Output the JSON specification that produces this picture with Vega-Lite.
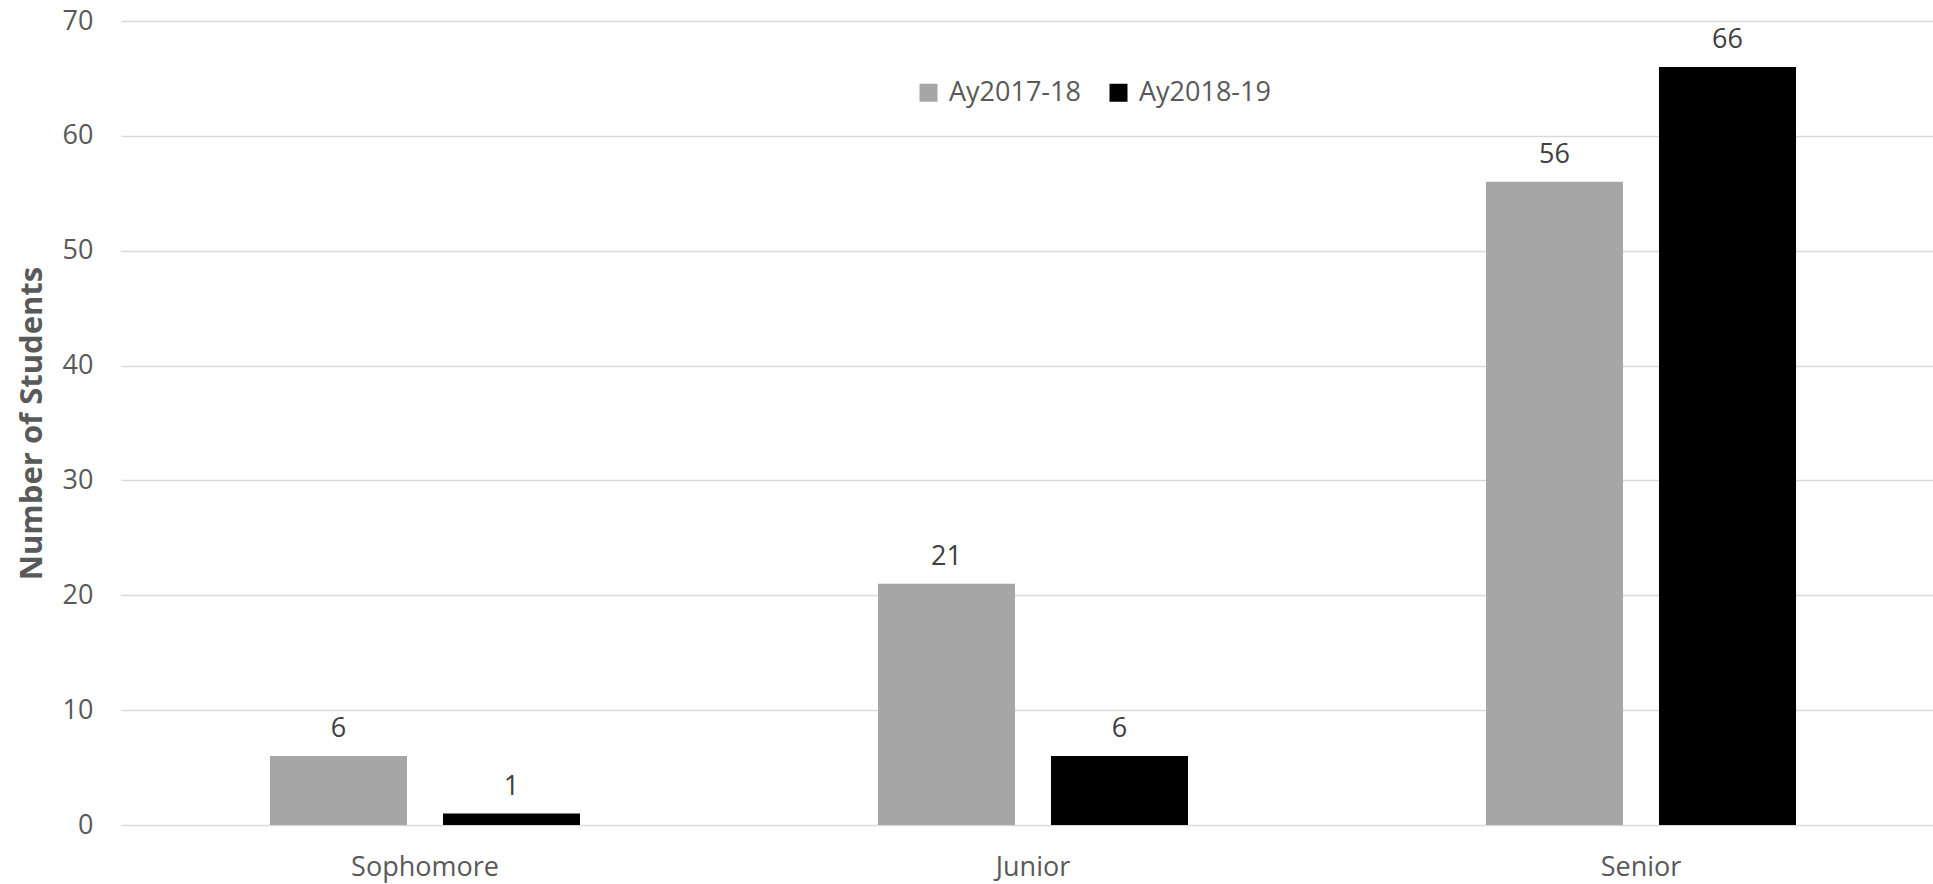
{
  "$schema": "https://vega.github.io/schema/vega-lite/v6.json",
  "autosize": "none",
  "width": 1812,
  "height": 804,
  "padding": {"left": 121, "top": 21, "right": 0, "bottom": 59},
  "background": "white",
  "config": {
    "font": "Open Sans",
    "view": {"stroke": null},
    "axis": {"labelFont": "Open Sans", "titleFont": "Open Sans"}
  },
  "data": {
    "values": [
      {"level": "Sophomore", "year": "Ay2017-18", "students": 6},
      {"level": "Sophomore", "year": "Ay2018-19", "students": 1},
      {"level": "Junior", "year": "Ay2017-18", "students": 21},
      {"level": "Junior", "year": "Ay2018-19", "students": 6},
      {"level": "Senior", "year": "Ay2017-18", "students": 56},
      {"level": "Senior", "year": "Ay2018-19", "students": 66}
    ]
  },
  "encoding": {
    "x": {
      "field": "level",
      "type": "nominal",
      "sort": ["Sophomore", "Junior", "Senior"],
      "scale": {"range": [0, 1824], "paddingInner": 0, "paddingOuter": 0},
      "axis": {
        "title": null,
        "labelAngle": 0,
        "labelFontSize": 27,
        "labelColor": "#595959",
        "labelPadding": 29,
        "ticks": false,
        "domain": false,
        "grid": false
      }
    },
    "xOffset": {
      "field": "year",
      "type": "nominal",
      "scale": {"paddingInner": 0.208, "paddingOuter": 0.861}
    },
    "y": {
      "field": "students",
      "type": "quantitative",
      "scale": {"domain": [0, 70], "nice": false},
      "axis": {
        "title": "Number of Students",
        "titleFontSize": 31,
        "titleFontWeight": "bold",
        "titleColor": "#595959",
        "titlePadding": 14,
        "values": [0, 10, 20, 30, 40, 50, 60, 70],
        "labelFontSize": 27,
        "labelColor": "#595959",
        "labelPadding": 28,
        "ticks": false,
        "domain": false,
        "gridColor": "#d9d9d9",
        "gridWidth": 1.5
      }
    }
  },
  "layer": [
    {
      "mark": {"type": "bar"},
      "encoding": {
        "color": {
          "field": "year",
          "type": "nominal",
          "scale": {"domain": ["Ay2017-18", "Ay2018-19"], "range": ["#a6a6a6", "#000000"]},
          "legend": {
            "title": null,
            "orient": "none",
            "direction": "horizontal",
            "legendX": 794,
            "legendY": 58,
            "symbolType": "square",
            "symbolSize": 324,
            "symbolStrokeWidth": 0,
            "labelFontSize": 27,
            "labelColor": "#595959",
            "labelOffset": 7,
            "columnPadding": 24
          }
        }
      }
    },
    {
      "mark": {"type": "text", "baseline": "alphabetic", "dy": -19, "fontSize": 27, "color": "#404040"},
      "encoding": {
        "text": {"field": "students", "type": "quantitative"}
      }
    }
  ]
}
